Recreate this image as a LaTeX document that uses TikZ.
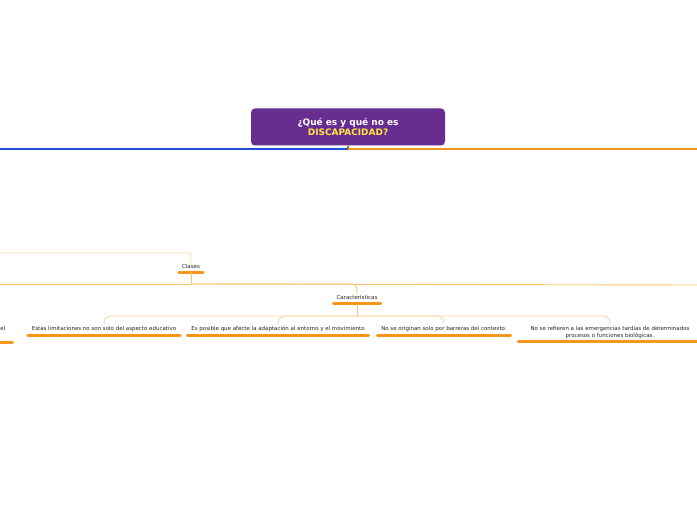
\documentclass[tikz,border=0pt]{standalone}
\usepackage{fontspec}
\setmainfont{DejaVu Sans}
\usetikzlibrary{positioning, calc}
\definecolor{moradoTitulo}{RGB}{103,45,145}
\definecolor{amarilloTitulo}{RGB}{255,232,60}
\definecolor{ramaAzul}{RGB}{32,82,214}
\definecolor{ramaNaranja}{RGB}{240,150,30}
\definecolor{naranjaRaya}{RGB}{247,150,25}
\definecolor{enlaceClaro}{RGB}{253,214,160}
\definecolor{enlaceMedio}{RGB}{252,196,110}
\definecolor{textoTema}{RGB}{35,35,35}
\tikzset{
  titulo/.style={fill=moradoTitulo, rounded corners=4bp, align=center, text=white,
    minimum width=194bp, minimum height=37bp, inner sep=0pt,
    font=\fontsize{9}{11}\selectfont\bfseries},
  tema/.style={align=center, text=textoTema, inner xsep=0pt, inner ysep=1bp,
    font=\fontsize{5.5}{7}\selectfont},
  raya/.style={line width=3bp, naranjaRaya, line cap=round, shorten <=1.5bp, shorten >=1.5bp},
  rama/.style={line width=1.1bp},
  enlace/.style={line width=0.9bp, enlaceClaro, rounded corners=7bp},
  enlaceFuerte/.style={line width=0.9bp, enlaceMedio}
}
\begin{document}
\begin{tikzpicture}[x=1bp, y=-1bp]
    \useasboundingbox (0,0) rectangle (697,520);

    % tema central
    \node[titulo] (raiz) at (348,127) {¿Qué es y qué no es\\\textcolor{amarilloTitulo}{DISCAPACIDAD?}};
    \coordinate (raizBase) at (348,149);
    \coordinate (raizIzq) at (0,149);
    \coordinate (raizDer) at (697,149);
    \draw[rama, ramaNaranja!70!black] (raiz.south) -- (raizBase);
    \draw[rama, ramaAzul] (raizBase) -- (raizIzq);
    \draw[rama, ramaNaranja] (raizBase) -- (raizDer);

    % clases
    \node[tema, minimum width=27bp] (clases) at (191,266.5) {Clases};
    \draw[raya] ([yshift=-2.5bp]clases.south west) -- ([yshift=-2.5bp]clases.south east);
    \coordinate (clasesArriba) at (0,253);
    \draw[enlace, rounded corners=2bp] (clasesArriba) -| (clases.north);

    \coordinate (clasesBase) at (191,284);
    \coordinate (clasesIzq) at (0,284);
    \coordinate (clasesDer) at (697,285);
    \draw[enlaceFuerte] ([yshift=-2.5bp]clases.south) -- (clasesBase);
    \draw[enlaceFuerte] (clasesBase) -- (clasesIzq);
    \draw[enlaceFuerte] (clasesBase) -- (clasesDer);

    % caracteristicas
    \node[tema, minimum width=50bp] (caract) at (357,297.5) {Características};
    \draw[raya] ([yshift=-3bp]caract.south west) -- ([yshift=-3bp]caract.south east);
    \draw[enlaceFuerte] (clasesBase) -- (343,284) .. controls (357,284) .. (caract.north);
    \coordinate (caractBase) at (357,316);
    \draw[enlaceFuerte] ([yshift=-3bp]caract.south) -- (caractBase);

    \node[tema, anchor=base east] (c1) at (5.5,330.5) {el};
    \coordinate (c1a) at (-30,342);
    \coordinate (c1b) at (14,342);
    \draw[raya] (c1a) -- (c1b);

    \node[tema, minimum width=155bp, anchor=base] (c2) at (104,330.5) {Estas limitaciones no son solo del aspecto educativo};
    \node[tema, minimum width=184bp, anchor=base] (c3) at (278,330.5) {Es posible que afecte la adaptación al entorno y el movimiento};
    \node[tema, minimum width=136bp, anchor=base] (c4) at (444,330.5) {No se originan solo por barreras del contexto.};
    \node[tema, minimum width=186bp, anchor=north] (c5) at (610,324.5) {No se refieren a las emergencias tardías de determinados\\procesos o funciones biológicas.};

    \draw[raya] ([yshift=-3bp]c2.south west) -- ([yshift=-3bp]c2.south east);
    \draw[raya] ([yshift=-3bp]c3.south west) -- ([yshift=-3bp]c3.south east);
    \draw[raya] ([yshift=-3bp]c4.south west) -- ([yshift=-3bp]c4.south east);
    \draw[raya] ([yshift=-2bp]c5.south west) -- ([yshift=-2bp]c5.south east);

    \draw[enlace] (caractBase) -| (c2.north);
    \draw[enlace] (caractBase) -| (c3.north);
    \draw[enlace] (caractBase) -| (c4.north);
    \draw[enlace] (caractBase) -| (c5.north);
\end{tikzpicture}
\end{document}
